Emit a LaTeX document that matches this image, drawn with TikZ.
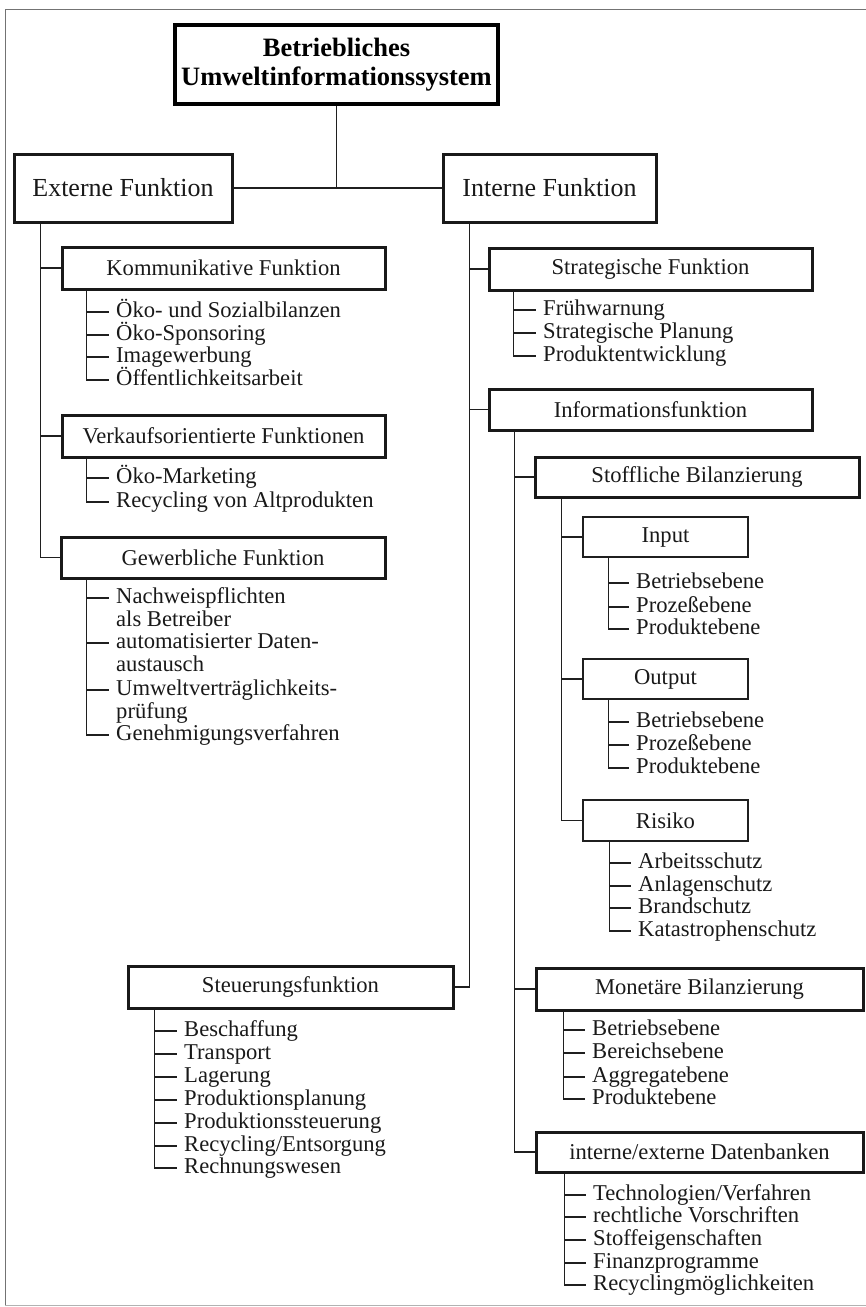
\documentclass[tikz,border=0pt]{standalone}
\usepackage{fontspec}
\setmainfont{Liberation Serif}
\begin{document}
\begin{tikzpicture}[x=1pt,y=-1pt,
  ln/.style={line width=1.4pt, draw=black!88},
  frame/.style={line width=1pt, draw=black!55},
  titlebox/.style={draw=black, line width=4pt, inner sep=0pt, align=center,
     text=black, font=\fontsize{26.5}{28.5}\selectfont\bfseries},
  topbox/.style={draw=black!90, line width=3pt, inner sep=0pt, text=black!90,
     font=\fontsize{26}{28}\selectfont},
  mainbox/.style={draw=black!90, line width=3pt, inner sep=0pt, text=black!90,
     font=\fontsize{22.6}{24}\selectfont},
  thinbox/.style={draw=black!88, line width=1.4pt, inner sep=0pt, text=black!90,
     font=\fontsize{22.6}{24}\selectfont},
  item/.style={anchor=west, inner xsep=7pt, inner ysep=0pt, text=black!90,
     text height=15.5pt, text depth=4.5pt, font=\fontsize{22.6}{22.6}\selectfont}
]
\useasboundingbox (0,0) rectangle (866,1307);
% frame
\draw[frame] (866,9) -- (5,9) -- (5,1305);
\draw[line width=0.8pt, draw=black!30] (5,1305) -- (866,1305);

% top level
\node[titlebox, minimum width=323pt, minimum height=79pt] (title) at (336.5,64.5)
  {Betriebliches\\Umweltinformationssystem};
\node[topbox, minimum width=218pt, minimum height=68pt] (ext) at (123,188) {Externe Funktion};
\node[topbox, minimum width=213pt, minimum height=68pt] (int) at (549.5,188) {Interne Funktion};
\draw[ln] (title.south) -- (title.south |- ext.east);
\draw[ln] (ext.east) -- (int.west);

% ---------- left column ----------
\node[mainbox, minimum width=323pt, minimum height=42pt] (kom) at (223.5,268) {Kommunikative Funktion};
\node[mainbox, minimum width=323pt, minimum height=42pt] (verk) at (223.5,436) {Verkaufsorientierte Funktionen};
\node[mainbox, minimum width=324pt, minimum height=41pt] (gew) at (223,557.5) {Gewerbliche Funktion};
\coordinate (et) at ([xshift=28pt]ext.south west);
\draw[ln] (et) |- (gew.west);
\draw[ln] (kom.west -| et) -- (kom.west);
\draw[ln] (verk.west -| et) -- (verk.west);

% Kommunikative items
\coordinate (kv) at ([xshift=26pt]kom.south west);
\node[item] (k1) at (109,312) {Öko- und Sozialbilanzen};
\node[item] (k2) at (109,335) {Öko-Sponsoring};
\node[item] (k3) at (109,357) {Imagewerbung};
\node[item] (k4) at (109,380) {Öffentlichkeitsarbeit};
\draw[ln] (kv) |- (k4.west);
\foreach \n in {k1,k2,k3} \draw[ln] (\n.west -| kv) -- (\n.west);

% Verkauf items
\coordinate (vv) at ([xshift=26pt]verk.south west);
\node[item] (v1) at (109,478) {Öko-Marketing};
\node[item] (v2) at (109,502) {Recycling von Altprodukten};
\draw[ln] (vv) |- (v2.west);
\draw[ln] (v1.west -| vv) -- (v1.west);

% Gewerbliche items
\coordinate (gv) at ([xshift=27pt]gew.south west);
\node[item] (g1) at (109,598) {Nachweispflichten};
\node[item] (g2) at (109,620.5) {als Betreiber};
\node[item] (g3) at (109,643) {automatisierter Daten-};
\node[item] (g4) at (109,666) {austausch};
\node[item] (g5) at (109,690) {Umweltverträglichkeits-};
\node[item] (g6) at (109,713) {prüfung};
\node[item] (g7) at (109,735) {Genehmigungsverfahren};
\draw[ln] (gv) |- (g7.west);
\foreach \n in {g1,g3,g5} \draw[ln] (\n.west -| gv) -- (\n.west);

% ---------- right column ----------
\node[mainbox, minimum width=323pt, minimum height=42pt] (strat) at (650.5,269) {Strategische Funktion};
\node[mainbox, minimum width=323pt, minimum height=41pt] (info) at (650.5,409.5) {Informationsfunktion};
\node[mainbox, minimum width=325pt, minimum height=42pt] (steu) at (290.5,987) {Steuerungsfunktion};
\coordinate (it) at ([xshift=28pt]int.south west);
\draw[ln] (it) |- (steu.east);
\draw[ln] (strat.west -| it) -- (strat.west);
\draw[ln] (info.west -| it) -- (info.west);

% Strategische items
\coordinate (sv) at ([xshift=26pt]strat.south west);
\node[item] (s1) at (536,310) {Frühwarnung};
\node[item] (s2) at (536,333) {Strategische Planung};
\node[item] (s3) at (536,356) {Produktentwicklung};
\draw[ln] (sv) |- (s3.west);
\foreach \n in {s1,s2} \draw[ln] (\n.west -| sv) -- (\n.west);

% Informationsfunktion children
\node[mainbox, minimum width=324pt, minimum height=40pt] (stoff) at (697,477) {Stoffliche Bilanzierung};
\node[mainbox, minimum width=327pt, minimum height=42pt] (mon) at (699.5,989) {Monetäre Bilanzierung};
\node[mainbox, minimum width=327pt, minimum height=40pt] (db) at (699.5,1152) {interne/externe Datenbanken};
\coordinate (iv) at ([xshift=27pt]info.south west);
\draw[ln] (iv) |- (db.west);
\draw[ln] (stoff.west -| iv) -- (stoff.west);
\draw[ln] (mon.west -| iv) -- (mon.west);

% Stoffliche children
\node[thinbox, minimum width=165pt, minimum height=40pt] (inp) at (665.5,537) {Input};
\node[thinbox, minimum width=165pt, minimum height=40pt] (outp) at (665.5,679) {Output};
\node[thinbox, minimum width=165pt, minimum height=41pt] (ris) at (665.5,820.5) {Risiko};
\coordinate (stv) at ([xshift=28pt]stoff.south west);
\draw[ln] (stv) |- (ris.west);
\draw[ln] (inp.west -| stv) -- (inp.west);
\draw[ln] (outp.west -| stv) -- (outp.west);

% Input items
\coordinate (inv) at ([xshift=26pt]inp.south west);
\node[item] (i1) at (629,583) {Betriebsebene};
\node[item] (i2) at (629,607) {Prozeßebene};
\node[item] (i3) at (629,629) {Produktebene};
\draw[ln] (inv) |- (i3.west);
\foreach \n in {i1,i2} \draw[ln] (\n.west -| inv) -- (\n.west);

% Output items
\coordinate (ov) at ([xshift=26pt]outp.south west);
\node[item] (o1) at (629,722) {Betriebsebene};
\node[item] (o2) at (629,745) {Prozeßebene};
\node[item] (o3) at (629,768) {Produktebene};
\draw[ln] (ov) |- (o3.west);
\foreach \n in {o1,o2} \draw[ln] (\n.west -| ov) -- (\n.west);

% Risiko items
\coordinate (rv) at ([xshift=27pt]ris.south west);
\node[item] (r1) at (631,863) {Arbeitsschutz};
\node[item] (r2) at (631,886) {Anlagenschutz};
\node[item] (r3) at (631,908) {Brandschutz};
\node[item] (r4) at (631,931) {Katastrophenschutz};
\draw[ln] (rv) |- (r4.west);
\foreach \n in {r1,r2,r3} \draw[ln] (\n.west -| rv) -- (\n.west);

% Monetäre items
\coordinate (mv) at ([xshift=29pt]mon.south west);
\node[item] (m1) at (585,1030) {Betriebsebene};
\node[item] (m2) at (585,1053) {Bereichsebene};
\node[item] (m3) at (585,1077) {Aggregatebene};
\node[item] (m4) at (585,1099) {Produktebene};
\draw[ln] (mv) |- (m4.west);
\foreach \n in {m1,m2,m3} \draw[ln] (\n.west -| mv) -- (\n.west);

% Datenbanken items
\coordinate (dv) at ([xshift=30pt]db.south west);
\node[item] (d1) at (586,1195) {Technologien/Verfahren};
\node[item] (d2) at (586,1217) {rechtliche Vorschriften};
\node[item] (d3) at (586,1240) {Stoffeigenschaften};
\node[item] (d4) at (586,1263) {Finanzprogramme};
\node[item] (d5) at (586,1285) {Recyclingmöglichkeiten};
\draw[ln] (dv) |- (d5.west);
\foreach \n in {d1,d2,d3,d4} \draw[ln] (\n.west -| dv) -- (\n.west);

% Steuerung items
\coordinate (stev) at ([xshift=28pt]steu.south west);
\node[item] (t1) at (177,1031) {Beschaffung};
\node[item] (t2) at (177,1054) {Transport};
\node[item] (t3) at (177,1077) {Lagerung};
\node[item] (t4) at (177,1100) {Produktionsplanung};
\node[item] (t5) at (177,1123) {Produktionssteuerung};
\node[item] (t6) at (177,1146) {Recycling/Entsorgung};
\node[item] (t7) at (177,1168) {Rechnungswesen};
\draw[ln] (stev) |- (t7.west);
\foreach \n in {t1,t2,t3,t4,t5,t6} \draw[ln] (\n.west -| stev) -- (\n.west);
\end{tikzpicture}
\end{document}
